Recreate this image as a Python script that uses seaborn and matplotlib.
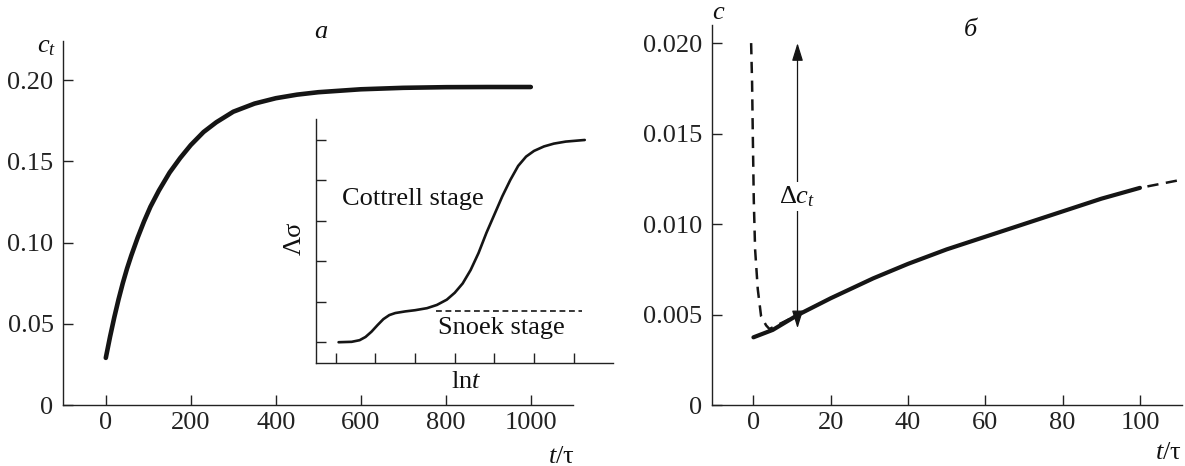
import matplotlib
matplotlib.use("Agg")
import matplotlib.pyplot as plt
import seaborn as sns
import pandas as pd

# ---------------- data ----------------
# panel a: main curve c_t(t/tau)
left_t = [0, 10, 20, 30, 40, 50, 60, 75, 90, 105, 125, 150, 175, 200, 230, 260,
          300, 350, 400, 450, 500, 600, 700, 800, 900, 1000]
left_c = [0.029, 0.042, 0.054, 0.065, 0.075, 0.084, 0.092, 0.103, 0.113, 0.122,
          0.132, 0.143, 0.152, 0.160, 0.168, 0.174, 0.1805, 0.1855, 0.1888, 0.1910,
          0.1925, 0.1943, 0.1952, 0.1956, 0.1957, 0.1957]
left_xticks = [0, 200, 400, 600, 800, 1000]
left_yticks = [0, 0.05, 0.10, 0.15, 0.20]
left_ylabels = ["0", "0.05", "0.10", "0.15", "0.20"]

# inset: delta sigma vs ln t (arbitrary units)
inset_x = [1.07, 1.4, 1.6, 1.75, 1.9, 2.05, 2.2, 2.35, 2.5, 2.75, 3.0, 3.3, 3.55,
           3.8, 4.0, 4.2, 4.4, 4.6, 4.8, 5.0, 5.2, 5.4, 5.6, 5.8, 6.0, 6.25, 6.5,
           6.8, 7.28]
inset_y = [1.00, 1.01, 1.05, 1.13, 1.26, 1.42, 1.57, 1.67, 1.72, 1.76, 1.79, 1.84,
           1.92, 2.05, 2.22, 2.45, 2.78, 3.2, 3.7, 4.15, 4.6, 5.0, 5.35, 5.58,
           5.72, 5.83, 5.9, 5.95, 5.99]
snoek_x = [3.53, 7.22]
snoek_y = [1.78, 1.78]
inset_xticks = [1, 2, 3, 4, 5, 6, 7]
inset_yticks = [1, 2, 3, 4, 5, 6]

# panel b: solid and dashed curves
right_t = [0, 5, 11.5, 20, 31, 40, 50, 60, 70, 80, 90, 100]
right_c = [0.00374, 0.00415, 0.00498, 0.0059, 0.0070, 0.0078, 0.0086, 0.0093,
           0.0100, 0.0107, 0.0114, 0.0120]
dash_t = [-0.6, -0.35, -0.17, 0.09, 0.43, 1.12, 1.98, 3.28, 4.14, 11.5, 20, 31,
          40, 50, 60, 70, 80, 90, 100, 110.8]
dash_c = [0.0200, 0.0178, 0.0150, 0.0113, 0.0086, 0.0064, 0.0049, 0.0044, 0.0042,
          0.00498, 0.0059, 0.0070, 0.0078, 0.0086, 0.0093, 0.0100, 0.0107, 0.0114,
          0.0120, 0.01245]
arrow_t = 11.4
arrow_c = [0.00424, 0.0200]
right_xticks = [0, 20, 40, 60, 80, 100]
right_yticks = [0, 0.005, 0.010, 0.015, 0.020]
right_ylabels = ["0", "0.005", "0.010", "0.015", "0.020"]

# ---------------- style ----------------
sns.set_theme(style="ticks")
plt.rcParams.update({
    "font.family": ["Liberation Serif", "DejaVu Serif"],
    "mathtext.fontset": "custom",
    "mathtext.rm": "Liberation Serif",
    "mathtext.it": "Liberation Serif:italic",
    "axes.linewidth": 1.0,
    "axes.edgecolor": "#222222",
    "xtick.color": "#222222",
    "ytick.color": "#222222",
    "text.color": "#111111",
})

W, H = 1185, 466
fig = plt.figure(figsize=(W / 100, H / 100), dpi=100)
FS = 19
INK = "#151515"

axL = fig.add_axes([63.3 / W, 61 / H, 510 / W, 364.3 / H])
axR = fig.add_axes([711.7 / W, 61 / H, 470 / W, 380 / H])
axI = fig.add_axes([316 / W, (H - 363.3) / H, 297.3 / W, 244 / H])

# ----- panel a -----
dfL = pd.DataFrame({"t": left_t, "c": left_c})
sns.lineplot(data=dfL, x="t", y="c", ax=axL, color=INK, lw=3.3,
             solid_capstyle="round", solid_joinstyle="round")
axL.set_xlim(-100, 1100)
axL.set_ylim(0, 0.2242)
axL.set_xticks(left_xticks)
axL.set_xticklabels([str(v) for v in left_xticks])
axL.set_yticks(left_yticks)
axL.set_yticklabels(left_ylabels)

# ----- panel b -----
dfR = pd.DataFrame({"t": right_t, "c": right_c})
dfD = pd.DataFrame({"t": dash_t, "c": dash_c})
sns.lineplot(data=dfD, x="t", y="c", ax=axR, color=INK, lw=1.8,
             linestyle=(0, (4.5, 3)), sort=False)
sns.lineplot(data=dfR, x="t", y="c", ax=axR, color=INK, lw=3.0,
             solid_capstyle="round", solid_joinstyle="round")
axR.set_xlim(-10.8, 110.8)
axR.set_ylim(0, 0.0210)
axR.set_xticks(right_xticks)
axR.set_xticklabels([str(v) for v in right_xticks])
axR.set_yticks(right_yticks)
axR.set_yticklabels(right_ylabels)

axR.annotate("", xy=(arrow_t, arrow_c[1]), xytext=(arrow_t, arrow_c[0]),
             arrowprops=dict(arrowstyle="<|-|>,head_length=0.9,head_width=0.28",
                             color=INK, lw=0.9, shrinkA=0, shrinkB=0,
                             mutation_scale=12))
axR.text(arrow_t, 0.01152, "Δ$c_t$", fontsize=FS, ha="center", va="center",
         bbox=dict(facecolor="white", edgecolor="none", pad=1.5))

# ----- inset -----
dfI = pd.DataFrame({"x": inset_x, "y": inset_y})
dfS = pd.DataFrame({"x": snoek_x, "y": snoek_y})
sns.lineplot(data=dfI, x="x", y="y", ax=axI, color=INK, lw=1.9)
sns.lineplot(data=dfS, x="x", y="y", ax=axI, color=INK, lw=1.2,
             linestyle=(0, (3.5, 2.2)))
axI.set_xlim(0.5, 8.0)
axI.set_ylim(0.48, 6.5)
axI.set_xticks(inset_xticks)
axI.set_yticks(inset_yticks)
axI.set_xticklabels([])
axI.set_yticklabels([])
axI.patch.set_alpha(0)
axI.text(1.15, 4.53, "Cottrell stage", fontsize=FS, ha="left", va="center")
axI.text(3.58, 1.35, "Snoek stage", fontsize=FS, ha="left", va="center")

for ax in (axL, axR, axI):
    sns.despine(ax=ax)
    ax.set_xlabel("")
    ax.set_ylabel("")
    ax.grid(False)

for ax in (axL, axR):
    ax.tick_params(axis="both", direction="in", length=7, width=1.0,
                   labelsize=FS)
    ax.tick_params(axis="x", pad=5)
    ax.tick_params(axis="y", pad=7)
axI.tick_params(axis="both", direction="in", length=7, width=1.0)


def ftext(x, y, s, **kw):
    fig.text(x / W, 1 - y / H, s, fontsize=kw.pop("fontsize", FS), **kw)


ftext(320.7, 31.7, "а", ha="center", va="center", style="italic")
ftext(970, 30, "б", ha="center", va="center", style="italic")
ftext(47, 47, "$c_t$", ha="center", va="center")
ftext(719, 13, "$c$", ha="center", va="center")
ftext(575, 457, "$t$/τ", ha="right", va="center")
ftext(1182, 453, "$t$/τ", ha="right", va="center")
ftext(295, 238, "Λσ", ha="center", va="center", rotation=90)
ftext(466, 382, "ln$t$", ha="center", va="center")

fig.savefig("out.png", dpi=100)
